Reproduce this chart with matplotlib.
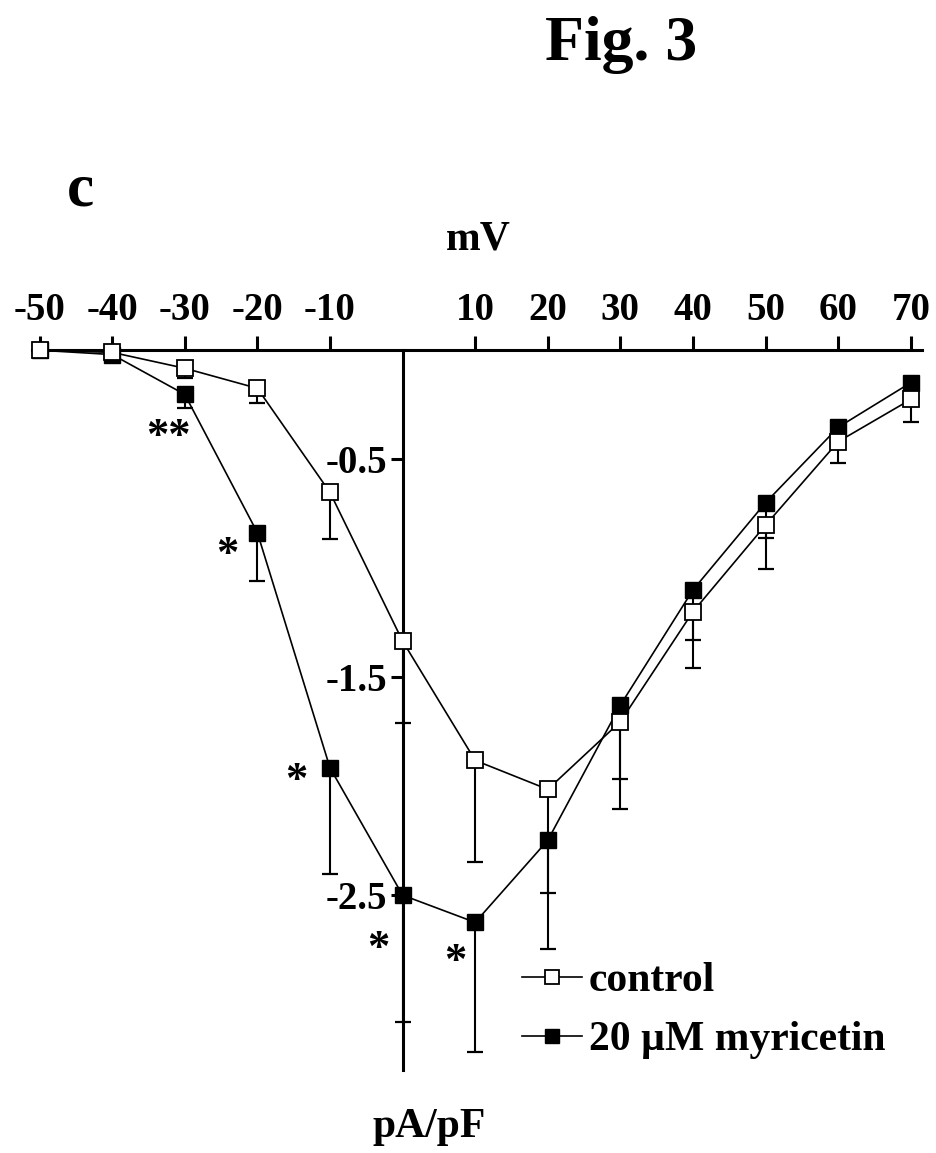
import matplotlib
matplotlib.use("Agg")
import matplotlib.pyplot as plt
import numpy as np

plt.rcParams['font.family'] = ['Liberation Serif', 'DejaVu Serif']
plt.rcParams['font.weight'] = 'bold'

voltages = [-50, -40, -30, -20, -10, 0, 10, 20, 30, 40, 50, 60, 70]
control = [0.0, -0.01, -0.083, -0.175, -0.653, -1.336, -1.884, -2.017, -1.706, -1.201, -0.803, -0.420, -0.226]
control_err = [0.0, 0.0, 0.045, 0.066, 0.216, 0.375, 0.468, 0.478, 0.403, 0.257, 0.204, 0.097, 0.102]
myricetin = [0.0, -0.02, -0.203, -0.838, -1.918, -2.503, -2.628, -2.251, -1.630, -1.101, -0.700, -0.354, -0.149]
myricetin_err = [0.0, 0.0, 0.061, 0.222, 0.489, 0.582, 0.594, 0.500, 0.341, 0.230, 0.164, 0.05, 0.04]
xtick_vals = [-50, -40, -30, -20, -10, 10, 20, 30, 40, 50, 60, 70]
ytick_vals = [-0.5, -1.5, -2.5]
ytick_labels = ['-0.5', '-1.5', '-2.5']
series_labels = ['control', '20 \u00b5M myricetin']
# significance marks: (x, y, text) in data coordinates
stars_x = [-32.3, -24.1, -14.6, -3.35, 7.2]
stars_y = [-0.40, -0.94, -1.98, -2.75, -2.81]
stars_txt = ['**', '*', '*', '*', '*']

W, H = 936, 1153
fig = plt.figure(figsize=(W / 100, H / 100), dpi=100)
left_px, right_px, top_px, bot_px = 32.3, 921.7, 350.2, 1070
ax = fig.add_axes([left_px / W, 1 - bot_px / H, (right_px - left_px) / W, (bot_px - top_px) / H])
ax.set_xlim(-51, 71.5)
ax.set_ylim(-3.306, 0)

for s in ['bottom', 'right']:
    ax.spines[s].set_visible(False)
ax.spines['left'].set_position(('data', 0))
ax.spines['left'].set_linewidth(2.2)
ax.spines['top'].set_linewidth(2.2)

ax.xaxis.tick_top()
ax.set_xticks(xtick_vals)
ax.set_xticklabels([str(v) for v in xtick_vals])
ax.tick_params(axis='x', direction='out', length=10, width=2.2, pad=5, labelsize=28)
ax.set_yticks(ytick_vals)
ax.set_yticklabels(ytick_labels)
ax.tick_params(axis='y', direction='out', length=9, width=2.2, pad=2, labelsize=28)
for lab in ax.get_xticklabels() + ax.get_yticklabels():
    lab.set_fontweight('bold')

zeros = np.zeros(len(voltages))
ax.errorbar(voltages, myricetin, yerr=[myricetin_err, zeros], fmt='none', ecolor='black',
            elinewidth=1.5, capsize=6, capthick=1.6, zorder=3, clip_on=False)
l2, = ax.plot(voltages, myricetin, '-s', color='black', lw=1.2, markersize=11.5,
              markerfacecolor='black', markeredgecolor='black', zorder=4, clip_on=False,
              label=series_labels[1])
ax.errorbar(voltages, control, yerr=[control_err, zeros], fmt='none', ecolor='black',
            elinewidth=1.5, capsize=6, capthick=1.6, zorder=5, clip_on=False)
l1, = ax.plot(voltages, control, '-s', color='black', lw=1.2, markersize=11.5,
              markerfacecolor='white', markeredgecolor='black', markeredgewidth=1.3,
              zorder=6, clip_on=False, label=series_labels[0])

for sx, sy, st in zip(stars_x, stars_y, stars_txt):
    ax.text(sx, sy, st, ha='center', va='center', fontsize=32, fontweight='bold')

leg = ax.legend(handles=[l1, l2], loc='upper left', bbox_to_anchor=(522 / W, 1 - 962 / H),
                bbox_transform=fig.transFigure, frameon=False,
                handlelength=1.45, handletextpad=0.15, labelspacing=0.5, borderpad=0,
                borderaxespad=0, markerscale=0.88, prop={'weight': 'bold', 'size': 30})

def ftext(x, y, s, size, **kw):
    fig.text(x / W, 1 - y / H, s, ha='center', va='center', fontsize=size, fontweight='bold', **kw)

ftext(621, 45, 'Fig. 3', 46)
ftext(80, 190, 'c', 44)
ftext(478, 240, 'mV', 30)
ftext(429, 1127, 'pA/pF', 30)

fig.savefig('out.png', dpi=100)
